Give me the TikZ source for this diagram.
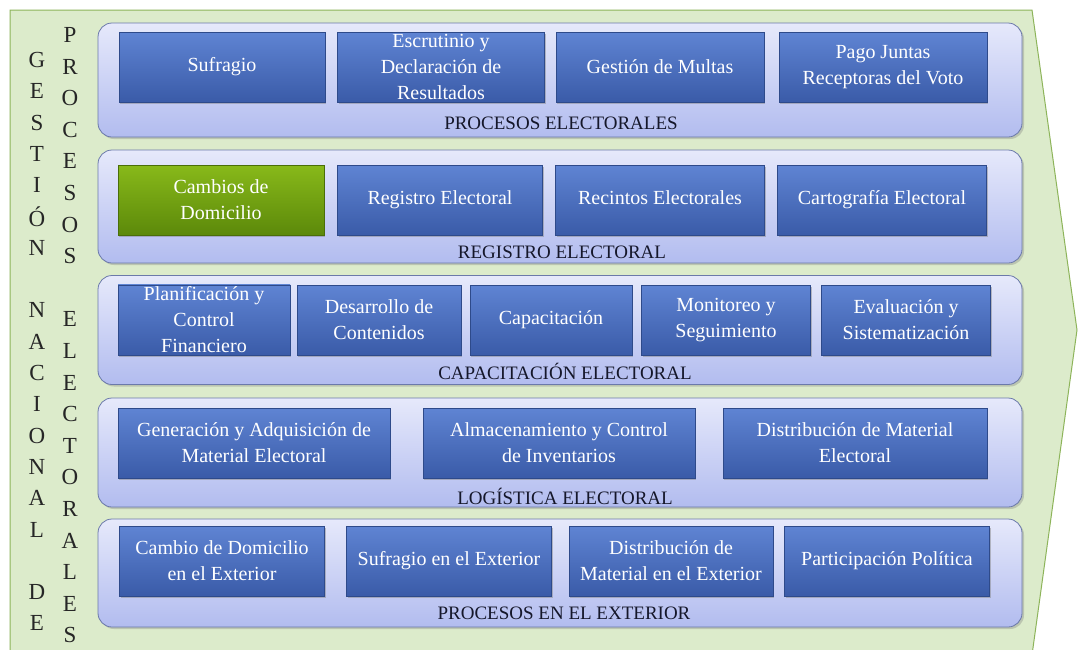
\documentclass[tikz,border=0pt]{standalone}
\usepackage{fontspec}
\setmainfont{Liberation Serif}
\usepackage{tikz}
\usetikzlibrary{shadows}
\definecolor{panelfill}{HTML}{DCEBCB}
\definecolor{panelline}{HTML}{8DB45A}
\definecolor{rowtop}{HTML}{E6E9FB}
\definecolor{rowbot}{HTML}{B2BCEF}
\definecolor{rowline}{HTML}{6B79AA}
\definecolor{proctop}{HTML}{5F84D3}
\definecolor{procbot}{HTML}{3A5BA8}
\definecolor{procline}{HTML}{2E4A8A}
\definecolor{seltop}{HTML}{88B91A}
\definecolor{selbot}{HTML}{5C890A}
\definecolor{selline}{HTML}{4A6E08}
\definecolor{lblcol}{HTML}{15172A}
\tikzset{
  panel/.style={draw=panelline, line width=1pt, fill=panelfill},
  row/.style={draw=rowline, line width=0.8pt, rounded corners=14pt, top color=rowtop, bottom color=rowbot,
    drop shadow={shadow xshift=2pt, shadow yshift=-2pt, opacity=0.35}},
  proc/.style={draw=procline, line width=0.6pt, top color=proctop, bottom color=procbot, text=white,
    align=center, inner sep=2pt, minimum height=70pt, font=\fontsize{20}{26}\selectfont,
    drop shadow={shadow xshift=1pt, shadow yshift=-2pt, opacity=0.45}},
  sel/.style={proc, draw=selline, top color=seltop, bottom color=selbot},
  rowlbl/.style={font=\fontsize{19}{20}\selectfont, text=lblcol, inner sep=0pt},
  vlet/.style={font=\fontsize{23}{23}\selectfont, text=black!85, inner sep=0pt}
}

\begin{document}
\begin{tikzpicture}[x=1pt, y=-1pt]
  \useasboundingbox (0,0) rectangle (1079,649);
  \clip (0,0) rectangle (1079,649);
  \fill[white] (0,0) rectangle (1079,649);
  % green chevron behind everything
  \draw[panel] (10,10) -- (1032,10) -- (1077,330) -- (1032,655) -- (10,655) -- cycle;

  % vertical titles
  \foreach \ch [count=\i] in {G,E,S,T,I,Ó,N,{},N,A,C,I,O,N,A,L,{},D,E}
    \node[vlet] (ga\i) at (37,{28.7+31.3*\i}) {\ch};
  \foreach \ch [count=\i] in {P,R,O,C,E,S,O,S,{},E,L,E,C,T,O,R,A,L,E,S}
    \node[vlet] (gb\i) at (70,{3.4+31.6*\i}) {\ch};

  % rows
  \node[row, minimum width=924pt, minimum height=114pt] (r1) at (560,80) {};
  \node[row, minimum width=924pt, minimum height=113pt] (r2) at (560,206.5) {};
  \node[row, minimum width=924pt, minimum height=109pt] (r3) at (560,330) {};
  \node[row, minimum width=924pt, minimum height=109pt] (r4) at (560,452.5) {};
  \node[row, minimum width=924pt, minimum height=108pt] (r5) at (560,573) {};

  % procesos electorales
  \node[proc, minimum width=206pt] (sufr) at (222,67) {Sufragio};
  \node[proc, minimum width=207pt] (escr) at (441,67) {Escrutinio y\\Declaración de\\Resultados};
  \node[proc, minimum width=208pt] (mult) at (660,67) {Gestión de Multas};
  \node[proc, minimum width=208pt] (pago) at (883,67) {Pago Juntas\\Receptoras del Voto};
  \node[rowlbl] (l1) at (561,123) {PROCESOS ELECTORALES};

  % registro electoral
  \node[sel, minimum width=206pt] (camb) at (221,200) {Cambios de\\Domicilio};
  \node[proc, minimum width=205pt] (regi) at (440,200) {Registro Electoral};
  \node[proc, minimum width=209pt] (reci) at (660,200) {Recintos Electorales\vphantom{g}};
  \node[proc, minimum width=209pt] (cart) at (882,200) {Cartografía Electoral};
  \node[rowlbl] (l2) at (562,252) {REGISTRO ELECTORAL};

  % capacitacion electoral
  \node[proc, minimum width=172pt] (plan) at (204,320) {Planificación y\\Control\\Financiero};
  \node[proc, minimum width=164pt] (desa) at (379,320) {Desarrollo de\\Contenidos};
  \node[proc, minimum width=162pt] (capa) at (551,320) {Capacitación};
  \node[proc, minimum width=169pt] (moni) at (726,320) {Monitoreo y\\Seguimiento};
  \node[proc, minimum width=169pt] (eval) at (906,320) {Evaluación y\\Sistematización};
  \node[rowlbl] (l3) at (565,371) {CAPACITACIÓN ELECTORAL};

  % logistica electoral
  \node[proc, minimum width=272pt] (gene) at (254,443) {Generación y Adquisición de\\Material Electoral};
  \node[proc, minimum width=272pt] (alma) at (559,443) {Almacenamiento y Control\\de Inventarios};
  \node[proc, minimum width=264pt] (dist) at (855,443) {Distribución de Material\\Electoral};
  \node[rowlbl] (l4) at (565,496) {LOGÍSTICA ELECTORAL};

  % procesos en el exterior
  \node[proc, minimum width=205pt] (cext) at (222,561) {Cambio de Domicilio\\en el Exterior};
  \node[proc, minimum width=205pt] (sext) at (449,561) {Sufragio en el Exterior};
  \node[proc, minimum width=204pt] (dext) at (671,561) {Distribución de\\Material en el Exterior};
  \node[proc, minimum width=205pt] (part) at (887,561) {Participación Política};
  \node[rowlbl] (l5) at (564,613) {PROCESOS EN EL EXTERIOR};
\end{tikzpicture}
\end{document}
